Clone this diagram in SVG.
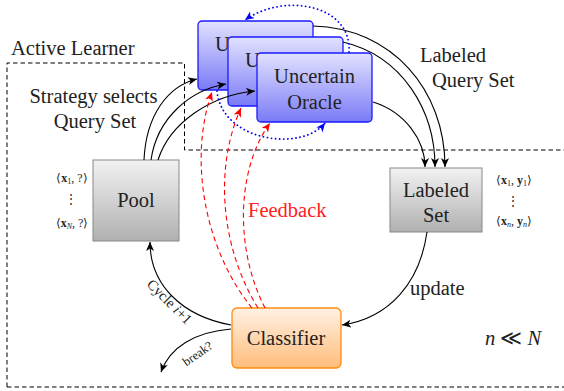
<svg xmlns="http://www.w3.org/2000/svg" width="564" height="391" viewBox="0 0 564 391" font-family="Liberation Serif, serif">
<defs>
<linearGradient id="gBlue" x1="0" y1="0" x2="0" y2="1"><stop offset="0" stop-color="#e2e2ff"/><stop offset="1" stop-color="#7a7af7"/></linearGradient>
<linearGradient id="gGray" x1="0" y1="0" x2="0" y2="1"><stop offset="0" stop-color="#f2f2f2"/><stop offset="1" stop-color="#b0b0b0"/></linearGradient>
<linearGradient id="gOrange" x1="0" y1="0" x2="0" y2="1"><stop offset="0" stop-color="#fff1e3"/><stop offset="1" stop-color="#ffbd7c"/></linearGradient>
<marker id="aBk" markerUnits="userSpaceOnUse" markerWidth="12" markerHeight="10" refX="9" refY="4" orient="auto"><path d="M0,0 L9,4 L0,8 L2.5,4 z" fill="#000"/></marker>
<marker id="aRd" markerUnits="userSpaceOnUse" markerWidth="12" markerHeight="10" refX="9" refY="4" orient="auto"><path d="M0,0 L9,4 L0,8 L2.5,4 z" fill="#ff0000"/></marker>
<marker id="aBl" markerUnits="userSpaceOnUse" markerWidth="12" markerHeight="10" refX="9" refY="4" orient="auto"><path d="M0,0 L9,4 L0,8 L2.5,4 z" fill="#0000ff"/></marker>
</defs>
<style>
text{fill:#222}
.t{font-size:20.5px}
.s{font-size:12px}
.oracle{fill:url(#gBlue);stroke:#1a1aff;stroke-width:1.3}
.pool{fill:url(#gGray);stroke:#888;stroke-width:1}
.cls{fill:url(#gOrange);stroke:#ff8a10;stroke-width:1.3}
.frame{fill:none;stroke:#000;stroke-width:1;stroke-dasharray:4.5,3}
.bk{fill:none;stroke:#000;stroke-width:1.1;marker-end:url(#aBk)}
.rd{fill:none;stroke:#ff0000;stroke-width:1.1;stroke-dasharray:5,3.5;marker-end:url(#aRd)}
.bl{fill:none;stroke:#0000ff;stroke-width:1.8;stroke-dasharray:0.1,4;stroke-linecap:round;marker-end:url(#aBl)}
</style>

<g id="frame">
<path class="frame" d="M7,387 L7,63 L184.5,63 L184.5,150 L566,150"/>
<path class="frame" d="M7,387 L566,387"/>
<text class="t" x="11" y="55">Active Learner</text>
</g>

<g id="oracle1">
<rect class="oracle" x="198" y="21" width="115" height="69" rx="4"/>
<text class="t" x="255.5" y="51" text-anchor="middle">Uncertain</text>
</g>
<g id="oracle2">
<rect class="oracle" x="228" y="37" width="115" height="69" rx="4"/>
<text class="t" x="285.5" y="67" text-anchor="middle">Uncertain</text>
</g>
<g id="oracle3">
<rect class="oracle" x="257" y="53" width="115" height="69" rx="4"/>
<text class="t" x="314.5" y="83" text-anchor="middle">Uncertain</text>
<text class="t" x="314.5" y="109" text-anchor="middle">Oracle</text>
</g>

<g id="pool">
<rect class="pool" x="93" y="160" width="86" height="81"/>
<text class="t" x="136" y="207" text-anchor="middle">Pool</text>
<text class="s" x="72" y="182" text-anchor="middle">⟨<tspan font-weight="bold">x</tspan><tspan font-size="8" dy="2">1</tspan><tspan dy="-2">, ?⟩</tspan></text>
<text class="s" x="71" y="203" text-anchor="middle">⋮</text>
<text class="s" x="72" y="227" text-anchor="middle">⟨<tspan font-weight="bold">x</tspan><tspan font-size="8" font-style="italic" dy="2">N</tspan><tspan dy="-2">, ?⟩</tspan></text>
</g>

<g id="labeled">
<rect class="pool" x="390" y="168" width="92" height="64"/>
<text class="t" x="436" y="197" text-anchor="middle">Labeled</text>
<text class="t" x="436" y="222" text-anchor="middle">Set</text>
<text class="s" x="514" y="184" text-anchor="middle">⟨<tspan font-weight="bold">x</tspan><tspan font-size="8" dy="2">1</tspan><tspan dy="-2">, </tspan><tspan font-weight="bold">y</tspan><tspan font-size="8" dy="2">1</tspan><tspan dy="-2">⟩</tspan></text>
<text class="s" x="513" y="205" text-anchor="middle">⋮</text>
<text class="s" x="514" y="225" text-anchor="middle">⟨<tspan font-weight="bold">x</tspan><tspan font-size="8" font-style="italic" dy="2">n</tspan><tspan dy="-2">, </tspan><tspan font-weight="bold">y</tspan><tspan font-size="8" font-style="italic" dy="2">n</tspan><tspan dy="-2">⟩</tspan></text>
</g>

<g id="classifier">
<rect class="cls" x="232" y="308" width="109" height="60" rx="5"/>
<text class="t" x="286" y="345" text-anchor="middle" font-size="20">Classifier</text>
</g>

<g id="connectors">
<path class="bk" d="M144,160 C146,115 168,86 197,79"/>
<path class="bk" d="M151,160 C157,118 190,90 226,84"/>
<path class="bk" d="M158,160 C170,122 212,95 255,91"/>
<path class="bk" d="M313,26 C392,28 445,90 445,167"/>
<path class="bk" d="M343,42 C402,56 435,110 435,167"/>
<path class="bk" d="M373,102 C405,112 425,140 425,167"/>
<path class="bl" d="M217,91 C222,142 302,152 325,123"/>
<path class="bl" d="M349,52 C352,5 285,-8 245,20"/>
<path class="rd" d="M252,308 C205,250 188,160 212,92"/>
<path class="rd" d="M258,308 C222,250 213,170 241,108"/>
<path class="rd" d="M265,308 C235,250 236,170 270,123"/>
<path class="bk" d="M231,325 C182,316 150,285 150,242"/>
<path class="bk" d="M231,329 C195,332 170,347 161,372"/>
<path class="bk" d="M427,232 C420,282 390,318 342,325"/>
</g>

<g id="labels">
<text class="t" x="93.5" y="103" text-anchor="middle">Strategy selects</text>
<text class="t" x="95" y="128" text-anchor="middle">Query Set</text>
<text class="t" x="420" y="62">Labeled</text>
<text class="t" x="432" y="87">Query Set</text>
<text class="t" x="248" y="217" style="fill:#ff2020">Feedback</text>
<text class="t" x="410" y="295">update</text>
<text class="t" x="485" y="345"><tspan font-style="italic">n</tspan> ≪ <tspan font-style="italic">N</tspan></text>
<text font-size="14.5" text-anchor="middle" transform="translate(166,305) rotate(45)">Cycle <tspan font-style="italic">i</tspan>+1</text>
<text font-size="12.5" text-anchor="middle" transform="translate(200,357) rotate(-35)">break?</text>
</g>
</svg>
